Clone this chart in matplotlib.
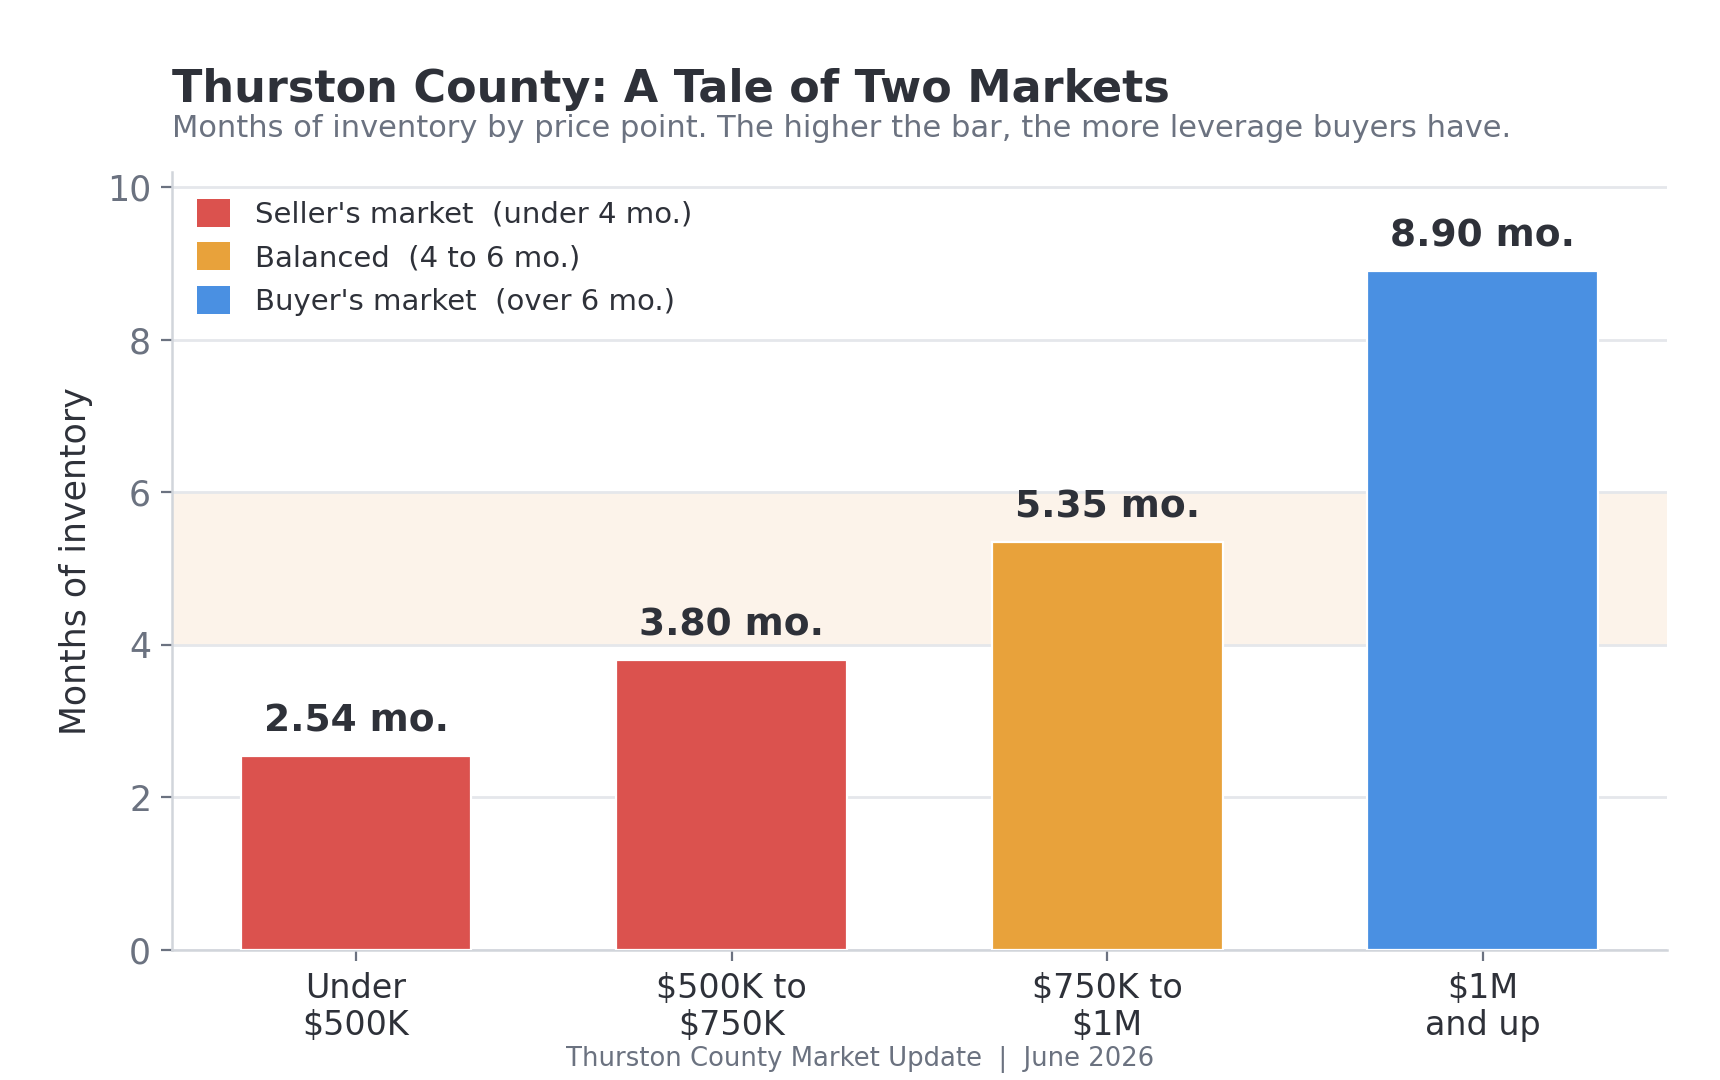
import matplotlib
matplotlib.use("Agg")
import matplotlib.pyplot as plt
from matplotlib.patches import Patch

# --- DATA ---
categories = ["Under\n$500K", "$500K to\n$750K", "$750K to\n$1M", "$1M\nand up"]
months = [2.54, 3.80, 5.35, 8.90]
legend_labels = ["Seller's market  (under 4 mo.)",
                 "Balanced  (4 to 6 mo.)",
                 "Buyer's market  (over 6 mo.)"]

# --- STYLE ---
RED, ORANGE, BLUE = "#DB524E", "#E8A23B", "#4A90E2"
DARK = "#2E3139"
GRAY = "#6B7280"
GRID = "#E5E7EB"
SPINE = "#D1D5DB"
BAND = "#FCF3EA"

def bar_color(v):
    if v < 4:
        return RED
    if v <= 6:
        return ORANGE
    return BLUE

plt.rcParams["font.family"] = "DejaVu Sans"

fig = plt.figure(figsize=(8.6, 5.4), dpi=200)
ax = fig.add_axes([0.1, 0.1204, 0.869, 0.7206])

x = list(range(len(categories)))
colors = [bar_color(v) for v in months]

ax.axhspan(4, 6, color=BAND, zorder=0, lw=0)
ax.set_axisbelow(True)
ax.grid(axis="y", color=GRID, lw=1.0)
bars = ax.bar(x, months, width=0.615, color=colors, edgecolor="white", lw=0.8, zorder=3)

for xi, v in zip(x, months):
    ax.annotate(f"{v:.2f} mo.", (xi, v), xytext=(0, 6), textcoords="offset points",
                ha="center", va="bottom", fontsize=13.5, fontweight="bold", color=DARK)

ax.set_xlim(-0.49, 3.49)
ax.set_ylim(0, 10.2)
ax.set_yticks([0, 2, 4, 6, 8, 10])
ax.set_xticks(x)
ax.set_xticklabels(categories, fontsize=12, color=DARK, linespacing=1.15)
ax.tick_params(axis="y", labelsize=12.5, labelcolor=GRAY, color=GRAY, length=4, width=0.8)
ax.tick_params(axis="x", color=GRAY, length=4, width=0.8, pad=4)
ax.set_ylabel("Months of inventory", fontsize=12.5, color=DARK, labelpad=5)

for side in ["top", "right"]:
    ax.spines[side].set_visible(False)
for side in ["left", "bottom"]:
    ax.spines[side].set_color(SPINE)
    ax.spines[side].set_linewidth(0.9)

handles = [Patch(facecolor=c, edgecolor="none") for c in (RED, ORANGE, BLUE)]
leg = ax.legend(handles, legend_labels, loc="upper left", frameon=False,
                fontsize=10.5, handlelength=1.1, handleheight=1.1,
                handletextpad=0.88, labelspacing=0.47,
                bbox_to_anchor=(0.0034, 0.9915), borderaxespad=0.3)
for t in leg.get_texts():
    t.set_color(DARK)

fig.text(0.1, 0.906, "Thurston County: A Tale of Two Markets", fontsize=16,
         fontweight="bold", color=DARK, ha="left", va="baseline")
fig.text(0.1, 0.873, "Months of inventory by price point. The higher the bar, the more leverage buyers have.",
         fontsize=11, color=GRAY, ha="left", va="baseline")
fig.text(0.5, 0.013, "Thurston County Market Update  |  June 2026", fontsize=9.3,
         color=GRAY, ha="center", va="baseline")

fig.savefig("out.png", dpi=200, facecolor="white")
